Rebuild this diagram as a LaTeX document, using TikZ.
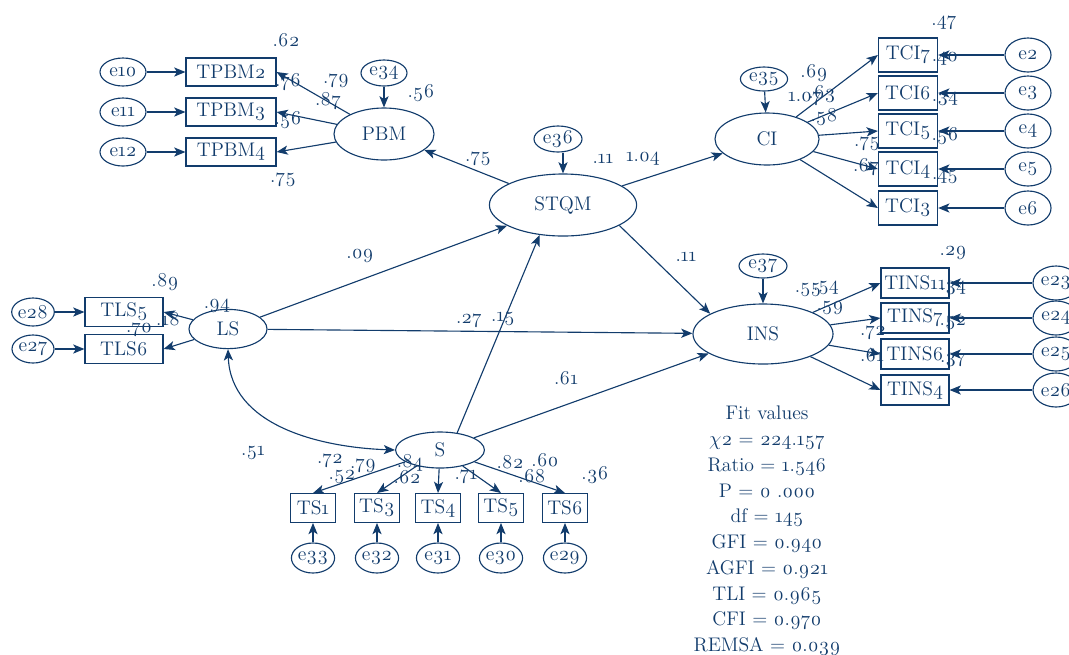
\documentclass[tikz,border=0pt]{standalone}
\usepackage{fontspec}
\setmainfont{Latin Modern Roman}[Numbers=OldStyle]
\usetikzlibrary{arrows.meta,shapes.geometric}
\definecolor{amosblue}{RGB}{18,60,108}
\tikzset{
  obs/.style={draw, rectangle, inner sep=0pt, minimum height=0.72cm},
  lat/.style={draw, ellipse, inner sep=0pt},
  err/.style={draw, ellipse, inner sep=0pt, minimum width=1.15cm, minimum height=0.7cm},
  errtall/.style={err, minimum height=0.85cm},
  est/.style={inner sep=0pt},
}
\begin{document}
\begin{tikzpicture}[x=0.025cm, y=-0.025cm, >={Stealth[length=8pt, width=6.5pt, inset=2pt]}, line width=0.8pt, color=amosblue, font=\fontsize{14}{16}\selectfont]
      \useasboundingbox (0,0) rectangle (1069,654);

      \node[lat, minimum width=2.5cm, minimum height=1.3cm] (PBM) at (384,134) {PBM};
      \node[lat, minimum width=3.68cm, minimum height=1.55cm] (STQM) at (563,205) {STQM};
      \node[lat, minimum width=2.6cm, minimum height=1.3cm] (CI) at (767,139) {CI};
      \node[lat, minimum width=3.5cm, minimum height=1.5cm] (INS) at (763,334) {INS};
      \node[lat, minimum width=1.95cm, minimum height=0.98cm] (LS) at (228,329) {LS};
      \node[lat, minimum width=2.22cm, minimum height=0.9cm] (S) at (440,450) {S};

      \node[obs, minimum width=2.25cm, minimum height=0.7cm] (TPBM2) at (231,72) {TPBM2};
      \node[obs, minimum width=2.25cm, minimum height=0.7cm] (TPBM3) at (231,112) {TPBM3};
      \node[obs, minimum width=2.25cm, minimum height=0.7cm] (TPBM4) at (231,152) {TPBM4};
      \node[err] (e10) at (123,72) {e10};
      \node[err] (e11) at (123,112) {e11};
      \node[err] (e12) at (123,152) {e12};
      \node[err, minimum width=1.15cm, minimum height=0.65cm] (e34) at (384,73) {e34};
      \node[err, minimum width=1.2cm, minimum height=0.65cm] (e36) at (558,139) {e36};
      \node[err, minimum width=1.18cm, minimum height=0.6cm] (e35) at (764,79) {e35};
      \node[err, minimum width=1.2cm, minimum height=0.6cm] (e37) at (763,266) {e37};

      \node[obs, minimum width=1.48cm, minimum height=0.85cm] (TCI7) at (908,55) {TCI7};
      \node[obs, minimum width=1.48cm, minimum height=0.85cm] (TCI6) at (908,93) {TCI6};
      \node[obs, minimum width=1.48cm, minimum height=0.85cm] (TCI5) at (908,131) {TCI5};
      \node[obs, minimum width=1.48cm, minimum height=0.85cm] (TCI4) at (908,169) {TCI4};
      \node[obs, minimum width=1.48cm, minimum height=0.85cm] (TCI3) at (908,208) {TCI3};
      \node[errtall] (e2) at (1028,55) {e2};
      \node[errtall] (e3) at (1028,93) {e3};
      \node[errtall] (e4) at (1028,131) {e4};
      \node[errtall] (e5) at (1028,169) {e5};
      \node[errtall] (e6) at (1028,208) {e6};

      \node[obs, minimum width=1.7cm, minimum height=0.75cm] (TINS11) at (915,283) {TINS11};
      \node[obs, minimum width=1.7cm, minimum height=0.75cm] (TINS7) at (915,318) {TINS7};
      \node[obs, minimum width=1.7cm, minimum height=0.75cm] (TINS6) at (915,354) {TINS6};
      \node[obs, minimum width=1.7cm, minimum height=0.75cm] (TINS4) at (915,390) {TINS4};
      \node[errtall] (e23) at (1056,283) {e23};
      \node[errtall] (e24) at (1056,318) {e24};
      \node[errtall] (e25) at (1056,354) {e25};
      \node[errtall] (e26) at (1056,390) {e26};

      \node[obs, minimum width=1.95cm] (TLS5) at (124,312) {TLS5};
      \node[obs, minimum width=1.95cm] (TLS6) at (124,349) {TLS6};
      \node[err, minimum width=1.05cm] (e28) at (33,312) {e28};
      \node[err, minimum width=1.05cm] (e27) at (33,349) {e27};

      \node[obs, minimum width=1.12cm] (TS1) at (313,508) {TS1};
      \node[obs, minimum width=1.12cm] (TS3) at (377,508) {TS3};
      \node[obs, minimum width=1.12cm] (TS4) at (438,508) {TS4};
      \node[obs, minimum width=1.12cm] (TS5) at (501,508) {TS5};
      \node[obs, minimum width=1.12cm] (TS6) at (565,508) {TS6};
      \node[err, minimum width=1.08cm, minimum height=0.75cm] (e33) at (313,558) {e33};
      \node[err, minimum width=1.08cm, minimum height=0.75cm] (e32) at (377,558) {e32};
      \node[err, minimum width=1.08cm, minimum height=0.75cm] (e31) at (438,558) {e31};
      \node[err, minimum width=1.08cm, minimum height=0.75cm] (e30) at (501,558) {e30};
      \node[err, minimum width=1.08cm, minimum height=0.75cm] (e29) at (565,558) {e29};

      \draw[->] (e10) -- (TPBM2);
      \draw[->] (e11) -- (TPBM3);
      \draw[->] (e12) -- (TPBM4);
      \draw[->] (e34) -- (PBM);
      \draw[->] (PBM) -- (TPBM2.east);
      \draw[->] (PBM) -- (TPBM3.east);
      \draw[->] (PBM) -- (TPBM4.east);
      \draw[->] (STQM) -- (PBM);
      \draw[->] (e36.south -| STQM.north) -- (STQM.north);
      \draw[->] (STQM) -- (CI);
      \draw[->] (STQM.-20) -- (INS.159);
      \draw[->] (e35) -- (CI);
      \draw[->] (e37) -- (INS);
      \draw[->] (CI) -- (TCI7.west);
      \draw[->] (CI) -- (TCI6.west);
      \draw[->] (CI) -- (TCI5.west);
      \draw[->] (CI) -- (TCI4.west);
      \draw[->] (CI) -- (TCI3.west);
      \draw[->] (e2) -- (TCI7);
      \draw[->] (e3) -- (TCI6);
      \draw[->] (e4) -- (TCI5);
      \draw[->] (e5) -- (TCI4);
      \draw[->] (e6) -- (TCI3);
      \draw[->] (INS) -- (TINS11.west);
      \draw[->] (INS) -- (TINS7.west);
      \draw[->] (INS) -- (TINS6.west);
      \draw[->] (INS) -- (TINS4.west);
      \draw[->] (e23) -- (TINS11);
      \draw[->] (e24) -- (TINS7);
      \draw[->] (e25) -- (TINS6);
      \draw[->] (e26) -- (TINS4);
      \draw[->] (LS) -- (STQM);
      \draw[->] (LS) -- (INS);
      \draw[->] (LS) -- (TLS5.east);
      \draw[->] (LS) -- (TLS6.east);
      \draw[->] (e28) -- (TLS5);
      \draw[->] (e27) -- (TLS6);
      \draw[->] (S.45) -- (STQM.-128);
      \draw[->] (S) -- (INS);
      \draw[<->] (LS.south) to[out=-88, in=178] (S.west);
      \draw[->] (S) -- (TS1.north);
      \draw[->] (S) -- (TS3.north);
      \draw[->] (S) -- (TS4.north);
      \draw[->] (S) -- (TS5.north);
      \draw[->] (S) -- (TS6.north);
      \draw[->] (e33) -- (TS1);
      \draw[->] (e32) -- (TS3);
      \draw[->] (e31) -- (TS4);
      \draw[->] (e30) -- (TS5);
      \draw[->] (e29) -- (TS6);

      \node[est] (rTPBM2) at (286,40) {.62};
      \node[est] (lTPBM2) at (288,82) {.76};
      \node[est] (lTPBM2b) at (336,81) {.79};
      \node[est] (lTPBM3) at (328,101) {.87};
      \node[est] (rTPBM3) at (288,120) {.56};
      \node[est] (rPBM) at (421,93) {.56};
      \node[est] (lTPBM4) at (283,180) {.75};
      \node[est] (pPBM) at (478,159) {.75};
      \node[est] (rSTQM) at (603,159) {.11};
      \node[est] (pCI) at (643,159) {1.04};

      \node[est] (rTCI7) at (944,23) {.47};
      \node[est] (rTCI6) at (945,59) {.40};
      \node[est] (rTCI5) at (945,99) {.34};
      \node[est] (rTCI4) at (945,136) {.56};
      \node[est] (rTCI3) at (945,177) {.45};
      \node[est] (lTCI7) at (814,73) {.69};
      \node[est] (rCI) at (805,99) {1.07};
      \node[est] (lTCI6) at (822,94) {.63};
      \node[est] (lTCI5) at (824,117) {.58};
      \node[est] (lTCI4) at (867,144) {.75};
      \node[est] (lTCI3) at (866,167) {.67};

      \node[est] (rTINS11) at (953,253) {.29};
      \node[est] (rINS) at (808,290) {.55};
      \node[est] (lTINS11) at (826,288) {.54};
      \node[est] (lTINS7) at (830,308) {.59};
      \node[est] (lTINS6) at (873,333) {.72};
      \node[est] (lTINS4) at (872,355) {.61};
      \node[est] (rTINS7) at (953,288) {.34};
      \node[est] (rTINS6) at (953,323) {.52};
      \node[est] (rTINS4) at (953,360) {.37};
      \node[est] (pINS) at (686,257) {.11};

      \node[est] (rTLS5) at (165,282) {.89};
      \node[est] (lTLS5) at (217,306) {.94};
      \node[est] (lTLS6) at (168,319) {.18};
      \node[est] (rTLS6) at (139,330) {.70};
      \node[est] (pLSS) at (360,256) {.09};
      \node[est] (pLSI) at (469,321) {.27};
      \node[est] (pSS) at (503,319) {.15};
      \node[est] (pSI) at (566,378) {.61};
      \node[est] (cLSS) at (253,453) {.51};

      \node[est] (lTS1) at (330,461) {.72};
      \node[est] (lTS3) at (363,466) {.79};
      \node[est] (rTS1) at (342,477) {.52};
      \node[est] (lTS4) at (410,463) {.84};
      \node[est] (rTS3) at (407,477) {.62};
      \node[est] (lTS5) at (466,477) {.71};
      \node[est] (lTS6) at (510,462) {.82};
      \node[est] (rTS4) at (545,460) {.60};
      \node[est] (rTS5) at (532,476) {.68};
      \node[est] (rTS6) at (595,475) {.36};

      \node[align=center, font=\fontsize{14}{18.3}\selectfont] (fit) at (767,531) {Fit values\\
        $\chi$2 = 224.157\\Ratio = 1.546\\P = 0 .000\\df = 145\\GFI = 0.940\\
        AGFI = 0.921\\TLI = 0.965\\CFI = 0.970\\REMSA = 0.039};
    \end{tikzpicture}
\end{document}
